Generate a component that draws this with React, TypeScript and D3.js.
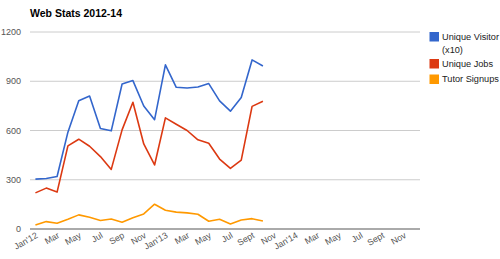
import * as d3 from "d3";

const W = 500;
const H = 259;

// every month Jan'12 .. Dec'14 is a slot on the x axis
const MONTHS = ["Jan", "Feb", "Mar", "Apr", "May", "Jun", "Jul", "Aug", "Sep", "Oct", "Nov", "Dec"];
const YEARS = ["12", "13", "14"];
const TICK_LABELS = [
  "Jan'12", "Mar", "May", "Jul", "Sep", "Nov",
  "Jan'13", "Mar", "May", "Jul", "Sept", "Nov",
  "Jan'14", "Mar", "May", "Jul", "Sept", "Nov",
];
const Y_TICKS = [0, 300, 600, 900, 1200];

// Jan'12 .. Oct'13
const visitors = [304, 308, 320, 590, 781, 810, 612, 598, 883, 904, 749, 666, 1000, 863, 859, 865, 886, 780, 718, 801, 1030, 993];
const jobs = [220, 249, 225, 506, 547, 504, 441, 363, 604, 772, 518, 390, 677, 638, 600, 543, 522, 426, 369, 420, 747, 778];
const signups = [24, 45, 35, 59, 86, 71, 52, 61, 41, 69, 92, 151, 114, 103, 98, 90, 47, 59, 31, 55, 63, 49];

const SERIES = [
  { name: ["Unique Visitor", "(x10)"], color: "#3366cc", values: visitors },
  { name: ["Unique Jobs"], color: "#dc3912", values: jobs },
  { name: ["Tutor Signups"], color: "#ff9900", values: signups },
];

const FONT = "Arial, 'Liberation Sans', sans-serif";

export default function App() {
  const categories = YEARS.flatMap((y) => MONTHS.map((m) => `${m}'${y}`));
  const left = 30;
  const right = 420;
  const top = 32;
  const bottom = 229;

  const x = d3.scalePoint<string>().domain(categories).range([left, right]).padding(0.5);
  const y = d3.scaleLinear().domain([0, 1200]).range([bottom, top]);

  const line = d3
    .line<number>()
    .x((_, i) => x(categories[i]) ?? 0)
    .y((d) => y(d));

  let legendY = 32;

  return (
    <svg
      width={W}
      height={H}
      style={{ position: "absolute", left: 0, top: 0, background: "#fff", fontFamily: FONT }}
    >
      <text x={30} y={16.5} fontSize={10.5} fontWeight="bold" fill="#000">
        Web Stats 2012-14
      </text>

      {Y_TICKS.map((t) => (
        <g key={t}>
          {t !== 0 && (
            <line x1={left} x2={right} y1={y(t)} y2={y(t)} stroke="#cccccc" strokeWidth={1} />
          )}
          <text x={21} y={y(t) + 3.2} fontSize={9} textAnchor="end" fill="#555">
            {t}
          </text>
        </g>
      ))}

      {SERIES.map((s) => (
        <path
          key={s.color}
          d={line(s.values) ?? ""}
          fill="none"
          stroke={s.color}
          strokeWidth={1.6}
          strokeLinejoin="round"
        />
      ))}

      <line x1={left} x2={right} y1={bottom} y2={bottom} stroke="#aaaaaa" strokeWidth={2} />

      {TICK_LABELS.map((lab, i) => {
        const px = (x(categories[i * 2]) ?? 0) + 3;
        const py = 237;
        return (
          <text
            key={i}
            x={px}
            y={py}
            fontSize={8.8}
            textAnchor="end"
            fill="#555"
            transform={`rotate(-30 ${px} ${py})`}
          >
            {lab}
          </text>
        );
      })}

      {SERIES.map((s) => {
        const y0 = legendY;
        legendY += s.name.length > 1 ? 27 : 15.5;
        return (
          <g key={s.color}>
            <rect x={429.5} y={y0} width={9.5} height={9.5} fill={s.color} />
            {s.name.map((n, j) => (
              <text key={j} x={442} y={y0 + 7.5 + j * 13} fontSize={9.2} fill="#222">
                {n}
              </text>
            ))}
          </g>
        );
      })}
    </svg>
  );
}
